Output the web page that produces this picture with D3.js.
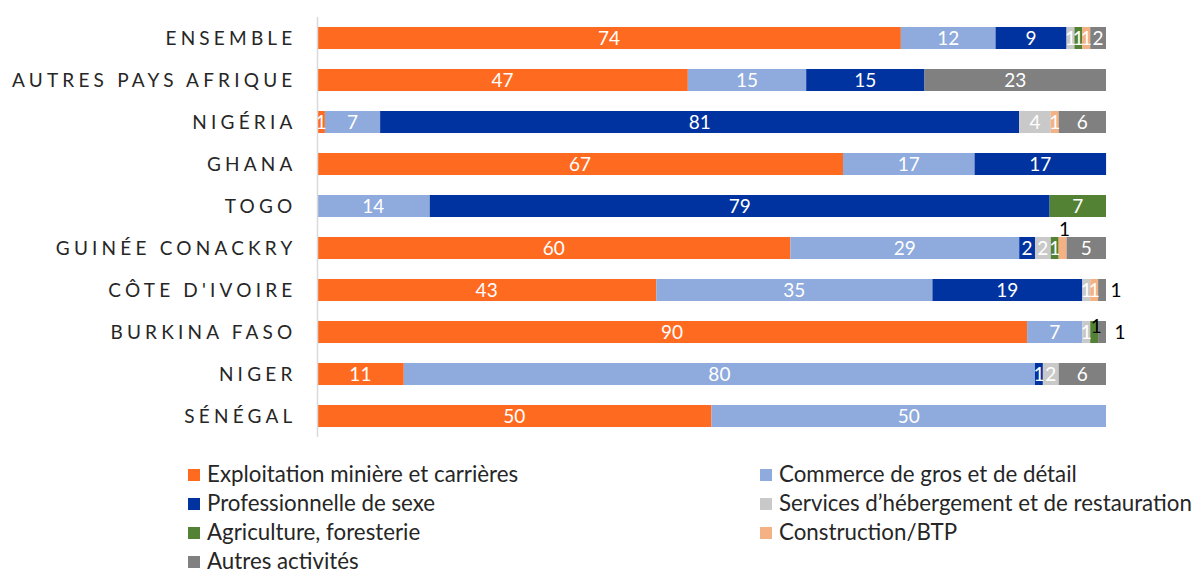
<!DOCTYPE html>
<html><head><meta charset="utf-8">
<script src="https://cdn.jsdelivr.net/npm/d3@7"></script>
<style>body{margin:0;background:#fff;}svg{display:block;font-family:Lato,"Open Sans",sans-serif;}</style>
</head><body><svg id="c" width="1195" height="570"></svg>
<script>
const categories = ["ENSEMBLE","AUTRES PAYS AFRIQUE","NIGÉRIA","GHANA","TOGO","GUINÉE CONACKRY","CÔTE D'IVOIRE","BURKINA FASO","NIGER","SÉNÉGAL"];
const seriesNames = ["Exploitation minière et carrières","Commerce de gros et de détail","Professionnelle de sexe","Services d’hébergement et de restauration","Agriculture, foresterie","Construction/BTP","Autres activités"];
const colors = ["#FF6A21","#8FAADC","#0033A0","#C9C9C9","#548235","#F4B183","#808080"];
// values per series (in category order)
const exploitation = [74,47,1,66.67,0,60,43,90,11,50];
const commerce     = [12,15,7,16.67,14.29,29,35,7,80,50];
const sexe         = [9,15,81,16.67,78.57,2,19,0,1,0];
const hebergement  = [1,0,4,0,0,2,1,1,2,0];
const agriculture  = [1,0,0,0,7.14,1,0,1,0,0];
const construction = [1,0,1,0,0,1,1,0,0,0];
const autres       = [2,23,6,0,0,5,1,1,6,0];
const seriesValues = [exploitation,commerce,sexe,hebergement,agriculture,construction,autres];
// labels shown outside the bar (dark text)
const outsideLabels = [
  {cat:"GUINÉE CONACKRY", series:5, pos:"above"},
  {cat:"CÔTE D'IVOIRE", series:6, pos:"right"},
  {cat:"BURKINA FASO", series:4, pos:"above"},
  {cat:"BURKINA FASO", series:6, pos:"right"}
];

const svg = d3.select("#c");
const x = d3.scaleLinear().domain([0,100]).range([317,1106]);
const y = d3.scaleBand().domain(categories).range([17,437]).paddingInner(0.476).paddingOuter(0.238);

const rows = categories.map((c,i)=>{ const o={cat:c}; seriesNames.forEach((s,j)=>o[s]=seriesValues[j][i]); return o;});
const stack = d3.stack().keys(seriesNames)(rows);

stack.forEach((layer,j)=>{
  const g = svg.append("g");
  layer.forEach(d=>{
    const v = d[1]-d[0];
    if(v<=0) return;
    const cat = d.data.cat;
    g.append("rect").attr("x",x(d[0])).attr("y",y(cat)).attr("width",x(d[1])-x(d[0])).attr("height",y.bandwidth()).attr("fill",colors[j]);
  });
});
// labels
stack.forEach((layer,j)=>{
  layer.forEach(d=>{
    const v = d[1]-d[0];
    if(v<=0) return;
    const cat = d.data.cat;
    const ov = outsideLabels.find(o=>o.cat===cat && o.series===j);
    const cx = (x(d[0])+x(d[1]))/2, cy = y(cat)+y.bandwidth()/2;
    const t = svg.append("text").text(Math.round(v)).attr("font-size",19).attr("text-anchor","middle");
    if(!ov){ t.attr("x",cx).attr("y",cy+7).attr("fill","#fff"); }
    else if(ov.pos==="above"){ t.attr("x",cx+2).attr("y",j===5? y(cat)-1 : cy+1).attr("fill","#000"); }
    else { t.attr("x",x(100)+ (cat==="BURKINA FASO"?14:10)).attr("y",cy+7).attr("fill","#000"); }
  });
});
// axis line
svg.append("line").attr("x1",317.5).attr("x2",317.5).attr("y1",17).attr("y2",437).attr("stroke","#D9D9D9").attr("stroke-width",1.5);
// category labels
categories.forEach(c=>{
  svg.append("text").text(c).attr("x",296.5).attr("y",y(c)+y.bandwidth()/2+7).attr("text-anchor","end")
    .attr("font-size",19).attr("letter-spacing",4.2).attr("fill","#262626");
});
// legend
const lx=[188,760], ly=[475,504,533,562];
seriesNames.forEach((s,i)=>{
  const col=i%2,row=Math.floor(i/2);
  svg.append("rect").attr("x",lx[col]).attr("y",ly[row]-6).attr("width",12).attr("height",12).attr("fill",colors[i]);
  svg.append("text").text(s).attr("x",lx[col]+19).attr("y",ly[row]+7).attr("font-size",22.3).attr("fill","#262626");
});
</script></body></html>
